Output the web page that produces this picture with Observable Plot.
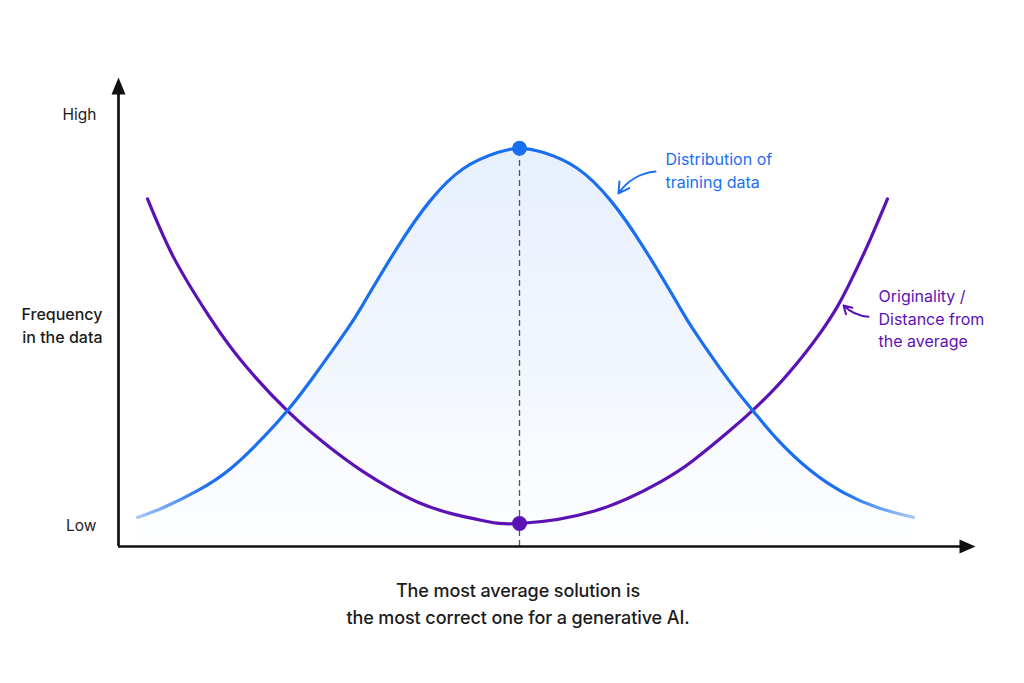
<!DOCTYPE html>
<html>
<head>
<meta charset="utf-8">
<script src="https://cdn.jsdelivr.net/npm/d3@7"></script>
<script src="https://cdn.jsdelivr.net/npm/@observablehq/plot@0.6"></script>
<style>
  html, body { margin: 0; padding: 0; background: #ffffff; }
  #chart { width: 1024px; }
  #caption {
    width: 1024px; box-sizing: border-box; padding-left: 12px;
    text-align: center; font-family: Inter, "Noto Sans", sans-serif;
    font-size: 18px; font-weight: 500; color: #1c1c1c;
    line-height: 27px; margin-top: 12px; letter-spacing: -0.1px;
  }
</style>
</head>
<body>
<div id="chart"></div>
<div id="caption">The most average solution is<br>the most correct one for a generative AI.</div>
<script>
// Position along the axis (0 = the average) and frequency (0 = axis, 100 = arrow tip)
const blueX = [-3.82, -3.56, -3.22, -2.89, -2.56, -2.32, -2.06, -1.72, -1.56, -1.22, -0.89, -0.56, -0.22, 0,
               0.24, 0.58, 0.91, 1.24, 1.58, 1.74, 2.08, 2.34, 2.58, 2.91, 3.24, 3.58, 3.94];
const blueY = [6.2, 8.3, 11.9, 16.6, 23.3, 29.0, 36.2, 46.4, 51.8, 63.8, 73.8, 80.6, 84.0, 84.9,
               84.0, 80.6, 73.8, 63.8, 51.8, 46.2, 35.8, 28.8, 22.8, 16.2, 11.5, 8.3, 6.2];
const purpleX = [-3.72, -3.46, -3.12, -2.79, -2.32, -1.89, -1.56, -1.29, -1.01, -0.68, -0.34, 0,
                 0.74, 1.41, 1.74, 2.08, 2.34, 2.58, 2.84, 3.01, 3.18, 3.34, 3.51, 3.68];
const purpleY = [74.1, 61.7, 49.6, 39.8, 28.9, 21.0, 15.9, 12.4, 9.4, 7.0, 5.4, 4.9,
                 7.5, 13.8, 18.4, 24.3, 29.2, 34.3, 40.8, 45.6, 51.2, 57.8, 65.6, 74.1];
const yTickValues = [4.3, 92.1];
const yTickLabels = ["Low", "High"];
const yAxisTitle = "Frequency\nin the data";
const blueLabel = "Distribution of\ntraining data";
const purpleLabel = "Originality /\nDistance from\nthe average";

const xDomain = [-4.01, 4.56];
const yDomain = [0, 100];

const blue = blueX.map((x, i) => ({x, y: blueY[i]}));
const purple = purpleX.map((x, i) => ({x, y: purpleY[i]}));
const peak = blue.reduce((a, b) => (b.y > a.y ? b : a));
const trough = purple.reduce((a, b) => (b.y < a.y ? b : a));

const BLUE = "#1a6ff0";
const PURPLE = "#5b12b5";
const INK = "#1c1c1c";
const FONT = "Inter, 'Noto Sans', sans-serif";

const arrowUp = {draw(ctx) { ctx.moveTo(0, 0); ctx.lineTo(-7, 17); ctx.lineTo(7, 17); ctx.closePath(); }};
const arrowRight = {draw(ctx) { ctx.moveTo(0, 0); ctx.lineTo(-16, -7); ctx.lineTo(-16, 7); ctx.closePath(); }};

const svg = Plot.plot({
  width: 1024,
  height: 565,
  marginLeft: 118,
  marginRight: 49,
  marginTop: 77,
  marginBottom: 19,
  style: {background: "transparent", fontFamily: FONT, overflow: "visible"},
  x: {domain: xDomain, axis: null},
  y: {domain: yDomain, axis: null},
  marks: [
    Plot.areaY(blue, {x: "x", y: "y", fill: "url(#blueFill)", curve: "natural"}),
    Plot.ruleX([peak], {x: "x", y1: 0, y2: "y", stroke: "#555", strokeWidth: 1.3, strokeDasharray: "6,4"}),
    Plot.line(purple, {x: "x", y: "y", stroke: PURPLE, strokeWidth: 3.2, curve: "natural"}),
    Plot.line(blue, {x: "x", y: "y", stroke: "url(#blueStroke)", strokeWidth: 3.2, curve: "natural"}),
    Plot.dot([peak], {x: "x", y: "y", r: 7.5, fill: BLUE}),
    Plot.dot([trough], {x: "x", y: "y", r: 7.5, fill: PURPLE}),
    // axes
    Plot.ruleX([xDomain[0]], {y1: 0, y2: 97, stroke: "#111", strokeWidth: 2.7}),
    Plot.ruleY([0], {x1: xDomain[0], x2: xDomain[1] - 0.1, stroke: "#111", strokeWidth: 2.7}),
    Plot.dot([[xDomain[0], yDomain[1]]], {x: d => d[0], y: d => d[1], symbol: arrowUp, fill: "#111", stroke: "none"}),
    Plot.dot([[xDomain[1], yDomain[0]]], {x: d => d[0], y: d => d[1], symbol: arrowRight, fill: "#111", stroke: "none"}),
    Plot.axisY({ticks: yTickValues, tickFormat: (d, i) => yTickLabels[i], tickSize: 0, tickPadding: 22,
                fontSize: 15.5, fill: INK, label: null}),
    Plot.text([yAxisTitle], {x: xDomain[0], y: 47.4, text: d => d, textAnchor: "end", dx: -16,
               fontSize: 16, fontWeight: 500, fill: INK, lineHeight: 1.45}),
    // annotations
    Plot.text([blueLabel], {x: 1.46, y: 80.5, text: d => d, textAnchor: "start", fontSize: 16,
               fill: BLUE, lineHeight: 1.45}),
    Plot.arrow([0], {x1: 1.36, y1: 79.96, x2: 0.99, y2: 75.3, bend: -25, stroke: BLUE,
                strokeWidth: 2, headLength: 9}),
    Plot.text([purpleLabel], {x: 3.59, y: 48.8, text: d => d, textAnchor: "start", fontSize: 16,
               fill: PURPLE, lineHeight: 1.4}),
    Plot.arrow([0], {x1: 3.49, y1: 49.0, x2: 3.24, y2: 51.4, bend: 20, stroke: PURPLE,
                strokeWidth: 2, headLength: 8})
  ]
});

svg.insertAdjacentHTML("afterbegin", `
<defs>
  <linearGradient id="blueStroke" x1="0" y1="0" x2="1" y2="0">
    <stop offset="0" stop-color="#a9c8fa"/>
    <stop offset="0.09" stop-color="${BLUE}"/>
    <stop offset="0.91" stop-color="${BLUE}"/>
    <stop offset="1" stop-color="#a9c8fa"/>
  </linearGradient>
  <linearGradient id="blueFill" x1="0" y1="0" x2="0" y2="1">
    <stop offset="0" stop-color="#e3edfd" stop-opacity="0.85"/>
    <stop offset="0.6" stop-color="#eaf1fd" stop-opacity="0.6"/>
    <stop offset="1" stop-color="#f4f8fe" stop-opacity="0.15"/>
  </linearGradient>
</defs>`);

document.getElementById("chart").appendChild(svg);
</script>
</body>
</html>
